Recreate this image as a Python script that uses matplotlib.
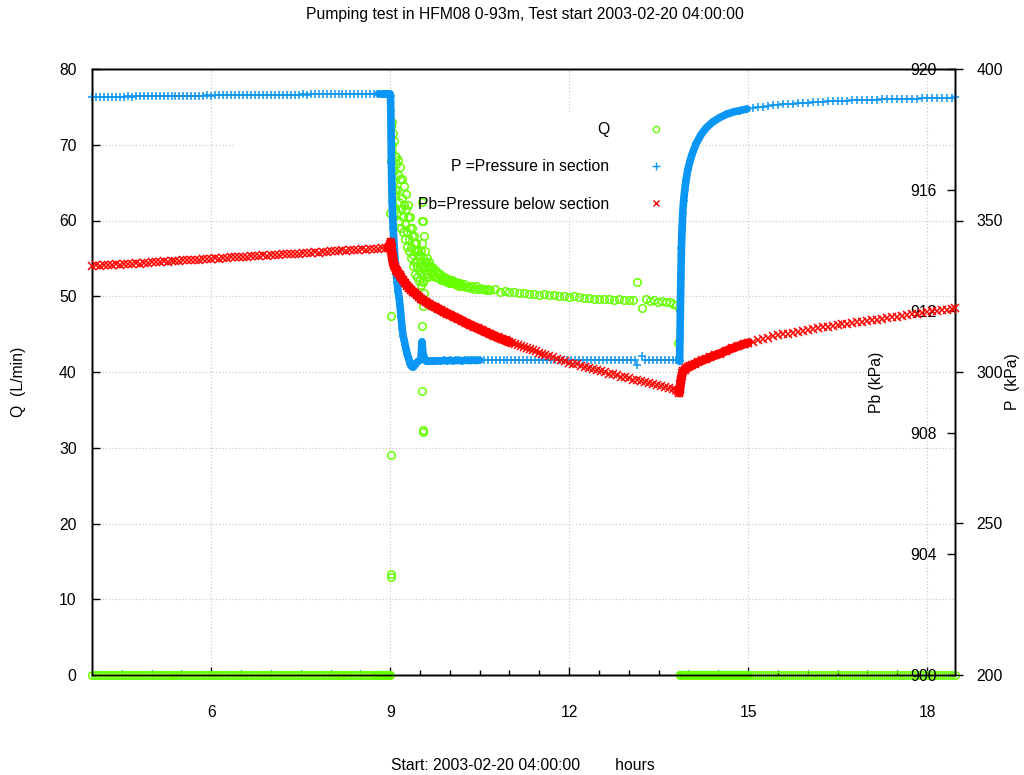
import numpy as np
import matplotlib
matplotlib.use("Agg")
import matplotlib.pyplot as plt
from matplotlib.patches import Rectangle
from matplotlib.lines import Line2D
from matplotlib.ticker import FixedLocator, MultipleLocator

plt.rcParams['font.family'] = ['Liberation Sans', 'DejaVu Sans']

# Test start (hour of day); logger times below are minutes after this
T0_HOUR = 4.0

# ---------------- Flow rate Q (L/min) ----------------
q_min = [
    0, 3, 6, 9, 12, 15, 18, 21, 24, 27, 30, 33, 36, 39, 42, 45, 48, 51, 54, 57,
    60, 63, 66, 69, 72, 75, 78, 81, 84, 87, 90, 93, 96, 99, 102, 105, 108, 111, 114, 117,
    120, 123, 126, 129, 132, 135, 138, 141, 144, 147, 150, 153, 156, 159, 162, 165, 168, 171, 174, 177,
    180, 183, 186, 189, 192, 195, 198, 201, 204, 207, 210, 213, 216, 219, 222, 225, 228, 231, 234, 237,
    240, 243, 246, 249, 252, 255, 258, 261, 264, 267, 270, 273, 276, 279, 282, 285,
    287, 288, 289, 290, 291, 292, 293, 294, 295, 296, 297, 298, 299, 300,
    300.2, 300.5, 300.8, 301.0, 301.1, 301.2, 301.3, 301.5, 301.8, 302.0,
    302.3, 302.5, 302.8, 303.0, 303.3, 303.5, 303.8, 304.0, 304.3, 304.5,
    304.8, 305.0, 305.5, 306.0, 306.5, 307.0, 307.5, 308.0, 308.5, 309.0,
    309.5, 310.0, 310.5, 311.0, 311.5, 312.0, 312.5, 313.0, 313.5, 314.0,
    314.5, 315.0, 315.5, 316.0, 316.5, 317.0, 317.5, 318.0, 318.5, 319.0,
    319.5, 320.0, 320.5, 321.0, 321.5, 322.0, 322.5, 323.0, 323.5, 324.0,
    324.5, 325.0, 325.5, 326.0, 326.5, 327.0, 327.5, 328.0, 328.5, 329.0,
    329.5, 330.0, 330.5, 331.0, 331.3, 331.6, 331.8, 331.9, 332.0, 332.1,
    332.3, 332.5, 332.6, 332.8, 332.9, 333.0, 333.2, 333.4, 333.6, 333.8,
    334.0, 334.3, 334.6, 335.0, 335.5, 336.0, 336.5, 337.0, 337.5, 338.0,
    338.5, 339.0,
    340, 341, 342, 343, 344, 345, 346, 347, 348, 349, 350, 351, 352, 353, 354, 355,
    356, 357, 358, 359, 360, 361, 362, 363, 364, 365, 366, 367, 368, 369, 370, 372,
    374, 376, 378, 380, 382, 384, 386, 388, 390, 392, 394, 396, 398,
    400, 405, 410, 415, 420, 425, 430, 435, 440, 445, 450, 455, 460, 465, 470, 475,
    480, 485, 490, 495, 500, 505, 510, 515, 520, 525, 530, 535, 540, 544, 548, 553,
    557, 561, 565, 569, 573, 577, 581, 585, 588, 589.8,
    591.5, 594, 597, 600, 603, 606, 609, 612, 615, 618, 621, 624, 627, 630, 633, 636,
    639, 642, 645, 648, 651, 654, 657, 660,
    664, 668, 672, 676, 680, 684, 688, 692, 696, 700, 704, 708, 712, 716, 720, 724,
    728, 732, 736, 740, 744, 748, 752, 756, 760, 764, 768, 772, 776, 780, 784, 788,
    792, 796, 800, 804, 808, 812, 816, 820, 824, 828, 832, 836, 840, 844, 848, 852,
    856, 860, 864, 868,
]
q_lpm = [
    0, 0, 0, 0, 0, 0, 0, 0, 0, 0, 0, 0, 0, 0, 0, 0, 0, 0, 0, 0,
    0, 0, 0, 0, 0, 0, 0, 0, 0, 0, 0, 0, 0, 0, 0, 0, 0, 0, 0, 0,
    0, 0, 0, 0, 0, 0, 0, 0, 0, 0, 0, 0, 0, 0, 0, 0, 0, 0, 0, 0,
    0, 0, 0, 0, 0, 0, 0, 0, 0, 0, 0, 0, 0, 0, 0, 0, 0, 0, 0, 0,
    0, 0, 0, 0, 0, 0, 0, 0, 0, 0, 0, 0, 0, 0, 0, 0,
    0, 0, 0, 0, 0, 0, 0, 0, 0, 0, 0, 0, 0, 0,
    61.0, 68.0, 72.5, 13.0, 13.3, 29.0, 47.4, 70.0, 73.0, 64.0,
    69.0, 71.5, 65.0, 62.0, 67.0, 70.5, 63.5, 60.5, 66.5, 68.5,
    61.5, 64.0, 67.5, 68.4, 64.0, 61.0, 66.0, 68.0, 62.5, 60.0,
    65.5, 67.0, 61.5, 59.0, 63.0, 65.5, 60.5, 58.5, 62.0, 64.5,
    59.5, 57.5, 61.5, 63.5, 58.5, 56.5, 60.5, 62.0, 57.5, 56.0,
    59.0, 60.5, 56.5, 55.0, 58.0, 59.0, 55.5, 54.0, 57.0, 58.0,
    54.5, 53.0, 56.0, 57.0, 54.0, 52.5, 55.5, 56.0, 53.5, 52.0,
    54.5, 55.5, 53.0, 51.5, 56.0, 60.0, 62.5, 57.0, 54.0, 46.1,
    37.5, 32.3, 32.1, 48.7, 52.0, 60.0, 55.0, 51.9, 49.5, 58.0,
    53.0, 50.4, 54.5, 56.0, 53.5, 52.5, 54.5, 55.0, 53.0, 52.5,
    54.0, 54.5,
    54.0, 53.2, 53.8, 52.8, 53.6, 52.6, 53.3, 52.5, 53.1, 52.4, 52.9, 52.2, 52.7, 52.1, 52.5, 52.0,
    52.4, 51.9, 52.3, 51.8, 52.2, 51.7, 52.1, 51.7, 51.9, 51.6, 51.9, 51.5, 51.8, 51.4, 51.7, 51.3,
    51.6, 51.2, 51.4, 51.1, 51.3, 51.0, 51.3, 50.9, 51.1, 50.9, 51.0, 50.8, 51.0,
    50.8, 50.9, 50.6, 50.7, 50.5, 50.6, 50.4, 50.4, 50.3, 50.3, 50.2, 50.3, 50.1, 50.1, 50.0, 50.0,
    49.9, 50.0, 49.9, 49.8, 49.8, 49.7, 49.6, 49.6, 49.6, 49.5, 49.6, 49.5, 49.5, 49.5, 51.9, 48.4,
    49.6, 49.4, 49.5, 49.3, 49.4, 49.2, 49.3, 49.0, 48.8, 43.8,
    0, 0, 0, 0, 0, 0, 0, 0, 0, 0, 0, 0, 0, 0, 0, 0,
    0, 0, 0, 0, 0, 0, 0, 0,
    0, 0, 0, 0, 0, 0, 0, 0, 0, 0, 0, 0, 0, 0, 0, 0,
    0, 0, 0, 0, 0, 0, 0, 0, 0, 0, 0, 0, 0, 0, 0, 0,
    0, 0, 0, 0, 0, 0, 0, 0, 0, 0, 0, 0, 0, 0, 0, 0,
    0, 0, 0, 0,
]

# ---------------- Pressure in section P (kPa) ----------------
p_min = [
    0, 4, 8, 12, 16, 20, 24, 28, 32, 36,
    40, 44, 48, 52, 56, 60, 64, 68, 72, 76,
    80, 84, 88, 92, 96, 100, 104, 108, 112, 116,
    120, 124, 128, 132, 136, 140, 144, 148, 152, 156,
    160, 164, 168, 172, 176, 180, 184, 188, 192, 196,
    200, 204, 208, 212, 216, 220, 224, 228, 232, 236,
    240, 244, 248, 252, 256, 260, 264, 268, 272, 276,
    280, 284, 288, 292, 294, 296, 297, 298, 299, 300,
    300.3, 300.6, 300.9, 301.2, 301.6, 302.0, 302.5, 303.0, 304.0, 305.0,
    306.0, 307.0, 308.0, 309.0, 310.0, 311.0, 312.0, 313.0, 314.0, 315.0,
    316.0, 317.0, 318.0, 319.0, 320.0, 321.0, 322.0, 323.0, 324.0, 325.0,
    326.0, 327.0, 328.0, 329.0, 330.0, 331.0, 331.6, 332.0, 332.4, 333.0,
    334.0, 335.0, 336.0, 338.0, 340.0, 342.0, 344.0, 346.0, 348.0, 351.0,
    354.0, 357.0, 360.0, 363.0, 366.0, 369.0, 372.0, 375.0, 378.0, 381.0,
    384.0, 387.0, 390.0,
    394, 398, 402, 406, 410, 414, 418, 422, 426, 430, 434, 438, 442, 446, 450, 454,
    458, 462, 466, 470, 474, 478, 482, 486, 490, 494, 498, 502, 506, 510, 514, 518,
    522, 526, 530, 534, 538, 542, 546, 548, 553, 556, 560, 564, 568, 572, 576, 580,
    584, 588, 590,
    591.2, 591.5, 591.9, 592.4, 593.0, 593.6, 594.3, 595.2, 596.3, 597.7,
    599.3, 601.5, 604.3, 608.0, 613.0, 618.0, 624.0, 631.0, 638.0, 645.0,
    652.0, 659.0,
    665, 670, 675, 680, 685, 690, 695, 700, 705, 710, 715, 720, 725, 730,
    735, 740, 745, 750, 755, 760, 765, 770, 775, 780, 785, 790, 795, 800,
    805, 810, 815, 820, 825, 830, 835, 840, 845, 850, 855, 860, 865, 868,
]
p_kpa = [
    390.8, 390.8, 390.8, 390.9, 390.8, 390.9, 390.9, 390.9, 390.9, 391.0,
    390.9, 391.0, 391.0, 391.0, 391.0, 391.1, 391.0, 391.1, 391.1, 391.1,
    391.1, 391.1, 391.2, 391.1, 391.2, 391.2, 391.2, 391.2, 391.2, 391.3,
    391.2, 391.3, 391.3, 391.3, 391.3, 391.3, 391.4, 391.3, 391.4, 391.4,
    391.4, 391.4, 391.4, 391.4, 391.5, 391.4, 391.5, 391.5, 391.5, 391.5,
    391.5, 391.5, 391.5, 391.6, 391.5, 391.6, 391.6, 391.6, 391.6, 391.6,
    391.6, 391.6, 391.6, 391.7, 391.6, 391.7, 391.7, 391.7, 391.7, 391.7,
    391.7, 391.7, 391.8, 391.7, 391.8, 391.8, 391.8, 391.7, 391.8, 391.8,
    391.0, 386.0, 378.0, 369.0, 362.0, 356.0, 351.0, 347.5, 341.0, 336.5,
    332.5, 329.5, 326.5, 324.5, 321.5, 318.0, 314.5, 312.0, 310.5, 309.0,
    307.5, 306.0, 305.0, 304.0, 302.8, 302.0, 301.7, 301.6, 301.9, 302.3,
    302.8, 303.2, 303.5, 303.7, 303.9, 304.5, 308.0, 310.0, 308.5, 306.0,
    305.0, 304.0, 303.6, 303.5, 303.6, 303.5, 303.7, 303.6, 303.7, 303.6,
    303.8, 303.7, 303.8, 303.7, 303.8, 303.8, 303.7, 303.9, 303.8, 303.8,
    303.9, 303.8, 303.9,
    303.9, 303.8, 303.9, 303.9, 303.8, 303.9, 303.9, 303.9, 303.8, 303.9, 303.9, 304.0, 303.9, 303.9, 303.9, 304.0,
    303.9, 303.9, 304.0, 303.9, 304.0, 303.9, 304.0, 304.0, 303.9, 304.0, 304.0, 303.9, 304.0, 304.0, 304.0, 304.0,
    303.9, 304.0, 304.0, 304.1, 304.0, 304.0, 304.0, 302.2, 305.4, 304.0, 304.1, 304.0, 304.0, 304.1, 304.0, 304.1,
    304.0, 304.1, 304.0,
    303.5, 311.0, 320.0, 331.0, 341.0, 347.0, 352.5, 356.5, 360.0, 363.5,
    366.6, 369.5, 372.5, 375.5, 378.5, 380.6, 382.4, 383.9, 385.0, 385.8,
    386.3, 386.8,
    387.1, 387.4, 387.6, 387.8, 388.0, 388.1, 388.3, 388.4, 388.6, 388.7, 388.8, 388.9, 389.0, 389.1,
    389.2, 389.3, 389.4, 389.5, 389.5, 389.6, 389.7, 389.7, 389.8, 389.8, 389.9, 389.9, 390.0, 390.0,
    390.0, 390.1, 390.1, 390.1, 390.2, 390.2, 390.3, 390.3, 390.4, 390.4, 390.4, 390.5, 390.5, 390.6,
]

# ---------------- Pressure below section Pb (kPa) ----------------
pb_min = [
    0, 4, 8, 12, 16, 20, 24, 28, 32, 36,
    40, 44, 48, 52, 56, 60, 64, 68, 72, 76,
    80, 84, 88, 92, 96, 100, 104, 108, 112, 116,
    120, 124, 128, 132, 136, 140, 144, 148, 152, 156,
    160, 164, 168, 172, 176, 180, 184, 188, 192, 196,
    200, 204, 208, 212, 216, 220, 224, 228, 232, 236,
    240, 244, 248, 252, 256, 260, 264, 268, 272, 276,
    280, 284, 288, 292, 296, 298, 300,
    300.4, 300.8, 301.2, 301.8, 302.5, 303.2, 304.0, 305.0, 306.0, 307.0,
    308.0, 309.5, 311.0, 313.0, 315.0, 317.0, 319.0, 321.0, 323.0, 325.0,
    327.0, 329.0, 331.0, 333.0, 336.0, 339.0, 342.0, 345.0, 348.0, 351.0,
    354.0, 357.0, 360.0, 364.0, 368.0, 372.0, 376.0, 380.0, 384.0, 388.0,
    392.0, 396.0, 400.0, 404.0, 408.0, 412.0, 416.0, 420.0,
    423, 426, 429, 432, 435, 438, 441, 444, 447, 450, 453, 456,
    460, 464, 468, 472, 476, 480, 484, 488, 492, 496, 500, 504, 508, 512, 516, 520,
    524, 528, 532, 536, 540, 544, 548, 552, 556, 560, 564, 568, 572, 576, 580, 584,
    588, 590,
    591.0, 591.5, 592.0, 592.6, 593.3, 594.0, 595.0, 596.5, 598.0, 600.0,
    602.0, 604.0, 607.0, 610.0, 614.0, 618.0, 622.0, 627.0, 632.0, 638.0,
    644.0, 650.0, 656.0, 660.0,
    665, 670, 675, 680, 685, 690, 695, 700, 705, 710, 715, 720, 725, 730,
    735, 740, 745, 750, 755, 760, 765, 770, 775, 780, 785, 790, 795, 800,
    805, 810, 815, 820, 825, 830, 835, 840, 845, 850, 855, 860, 865, 868,
]
pb_kpa = [
    913.50, 913.52, 913.51, 913.53, 913.52, 913.54, 913.55, 913.54, 913.57, 913.56,
    913.58, 913.59, 913.58, 913.61, 913.60, 913.62, 913.63, 913.62, 913.65, 913.64,
    913.66, 913.67, 913.66, 913.69, 913.68, 913.70, 913.71, 913.70, 913.73, 913.72,
    913.74, 913.75, 913.74, 913.77, 913.76, 913.78, 913.79, 913.78, 913.81, 913.80,
    913.82, 913.83, 913.82, 913.85, 913.84, 913.86, 913.87, 913.86, 913.89, 913.88,
    913.90, 913.91, 913.90, 913.93, 913.92, 913.94, 913.95, 913.94, 913.97, 913.96,
    913.98, 913.99, 913.98, 914.01, 914.00, 914.02, 914.03, 914.02, 914.05, 914.04,
    914.06, 914.07, 914.06, 914.09, 914.08, 914.10, 914.12,
    914.28, 914.10, 914.03, 913.90, 913.75, 913.62, 913.52, 913.45, 913.38, 913.33,
    913.28, 913.20, 913.12, 913.02, 912.94, 912.85, 912.78, 912.71, 912.65, 912.60,
    912.54, 912.48, 912.42, 912.37, 912.31, 912.25, 912.19, 912.14, 912.09, 912.03,
    911.98, 911.93, 911.89, 911.82, 911.76, 911.69, 911.62, 911.56, 911.50, 911.44,
    911.38, 911.32, 911.26, 911.20, 911.14, 911.09, 911.04, 910.99,
    910.96, 910.92, 910.89, 910.85, 910.82, 910.79, 910.75, 910.72, 910.68, 910.64, 910.61, 910.57,
    910.52, 910.48, 910.43, 910.39, 910.35, 910.31, 910.28, 910.25, 910.21, 910.17, 910.13, 910.09, 910.06, 910.02, 909.99, 909.95,
    909.92, 909.89, 909.85, 909.82, 909.79, 909.75, 909.72, 909.69, 909.66, 909.63, 909.60, 909.57, 909.53, 909.50, 909.47, 909.44,
    909.40, 909.36,
    909.31, 909.45, 909.60, 909.75, 909.88, 909.97, 910.03, 910.08, 910.12, 910.16,
    910.20, 910.23, 910.28, 910.33, 910.38, 910.43, 910.49, 910.55, 910.61, 910.70,
    910.78, 910.85, 910.92, 910.96,
    911.00, 911.04, 911.09, 911.13, 911.18, 911.22, 911.24, 911.27, 911.30, 911.33, 911.36, 911.39, 911.42, 911.44,
    911.47, 911.49, 911.52, 911.54, 911.57, 911.59, 911.62, 911.64, 911.66, 911.68, 911.71, 911.73, 911.76, 911.78,
    911.81, 911.83, 911.86, 911.88, 911.91, 911.93, 911.95, 911.98, 912.00, 912.02, 912.04, 912.06, 912.08, 912.10,
]

# Axis ticks
x_ticks = [6, 9, 12, 15, 18]
q_ticks = [0, 10, 20, 30, 40, 50, 60, 70, 80]
p_ticks = [200, 250, 300, 350, 400]
pb_ticks = [900, 904, 908, 912, 916, 920]

GREEN = '#66ff00'
BLUE = '#0a96f5'
RED = '#ff0000'
FS = 11.3


def hours(minutes):
    return T0_HOUR + np.asarray(minutes, dtype=float) / 60.0


def dense_band(axis, minutes, values, lo, hi, color, lw):
    """Fast-logging stretches overlap into a solid band."""
    m = np.asarray(minutes, dtype=float)
    v = np.asarray(values, dtype=float)
    sel = (m >= lo) & (m <= hi)
    axis.plot(hours(m[sel]), v[sel], '-', color=color, lw=lw,
              solid_capstyle='round', solid_joinstyle='round', zorder=2,
              clip_on=False)


fig = plt.figure(figsize=(10.24, 7.75), dpi=100)
ax = fig.add_axes([92 / 1024, 100 / 775, 863 / 1024, 606 / 775])
ax_p = ax.twinx()
ax_pb = ax.twinx()

# grid (hidden behind the key area)
ax.set_axisbelow(True)
ax.grid(True, which='major', color='#c4c4c4', lw=0.8, ls=(0, (1, 2)))
ax.add_patch(Rectangle((0.1657, 0.757), 0.539, 0.170, transform=ax.transAxes,
                       facecolor='white', edgecolor='none', zorder=1))

# Q
dense_band(ax, q_min, q_lpm, 286, 300.1, GREEN, 6.0)
dense_band(ax, q_min, q_lpm, 591.5, 660, GREEN, 6.0)
ax.plot(hours(q_min), q_lpm, ls='none', marker='o', ms=5.4, mfc='none',
        mec=GREEN, mew=1.1, zorder=3, clip_on=False)

# P
dense_band(ax_p, p_min, p_kpa, 288, 392, BLUE, 5.5)
dense_band(ax_p, p_min, p_kpa, 591, 660, BLUE, 5.5)
ax_p.plot(hours(p_min), p_kpa, ls='none', marker='+', ms=6.2, mew=1.1,
          color=BLUE, zorder=3, clip_on=False)

# Pb
dense_band(ax_pb, pb_min, pb_kpa, 298, 420, RED, 7.0)
dense_band(ax_pb, pb_min, pb_kpa, 589, 660, RED, 6.5)
ax_pb.plot(hours(pb_min), pb_kpa, ls='none', marker='x', ms=5.2, mew=1.1,
           color=RED, zorder=3, clip_on=False)

# limits
ax.set_xlim(4.0, 18.47)
ax.set_ylim(0, 80)
ax_p.set_ylim(200, 400)
ax_pb.set_ylim(900, 920)

# x axis
ax.xaxis.set_major_locator(FixedLocator(x_ticks))
ax.xaxis.set_minor_locator(MultipleLocator(0.5))
ax.tick_params(axis='x', which='major', direction='in', length=6, width=1,
               pad=21.5, labelsize=FS, top=False)
ax.tick_params(axis='x', which='minor', direction='in', length=3.5, width=1,
               top=False)

# Q axis (left)
ax.set_yticks(q_ticks)
ax.tick_params(axis='y', direction='in', length=6, width=1, pad=11,
               labelsize=FS, right=False)

# P axis (right, outer)
ax_p.set_yticks(p_ticks)
ax_p.tick_params(axis='y', direction='out', length=5.5, width=1, pad=10,
                 labelsize=FS)

# Pb axis (right, labels inside the plot)
ax_pb.set_yticks(pb_ticks)
ax_pb.tick_params(axis='y', direction='in', length=5.5, width=1, pad=-13,
                  labelsize=FS)
for lbl in ax_pb.get_yticklabels():
    lbl.set_horizontalalignment('right')

for a in (ax, ax_p, ax_pb):
    for s in a.spines.values():
        s.set_linewidth(1.0)
        s.set_color('black')

# axis titles
fig.text(18 / 1024, 1 - 382 / 775, 'Q  (L/min)', rotation=90, ha='center',
         va='center', fontsize=FS)
fig.text(876 / 1024, 1 - 382 / 775, 'Pb (kPa)', rotation=90, ha='center',
         va='center', fontsize=FS)
fig.text(1013 / 1024, 1 - 382 / 775, 'P  (kPa)', rotation=90, ha='center',
         va='center', fontsize=FS)
fig.text(525 / 1024, 1 - 15 / 775,
         'Pumping test in HFM08 0-93m, Test start 2003-02-20 04:00:00',
         ha='center', va='center', fontsize=FS)
fig.text(523 / 1024, 1 - 765 / 775,
         'Start: 2003-02-20 04:00:00        hours',
         ha='center', va='center', fontsize=FS)

# key
handles = [
    Line2D([], [], ls='none', marker='o', ms=4.5, mfc='none', mec=GREEN, mew=1.0),
    Line2D([], [], ls='none', marker='+', ms=5.5, mew=1.0, color=BLUE),
    Line2D([], [], ls='none', marker='x', ms=4.5, mew=1.0, color=RED),
]
labels = ['Q', 'P =Pressure in section', 'Pb=Pressure below section']
ax_pb.legend(handles, labels, markerfirst=False, frameon=False,
             loc='upper right', bbox_to_anchor=(664 / 1024, 1 - 122 / 775),
             bbox_transform=fig.transFigure, borderpad=0, borderaxespad=0,
             handlelength=1.0, handletextpad=2.5, labelspacing=1.42,
             fontsize=FS)

fig.savefig('out.png', dpi=100, facecolor='white')
